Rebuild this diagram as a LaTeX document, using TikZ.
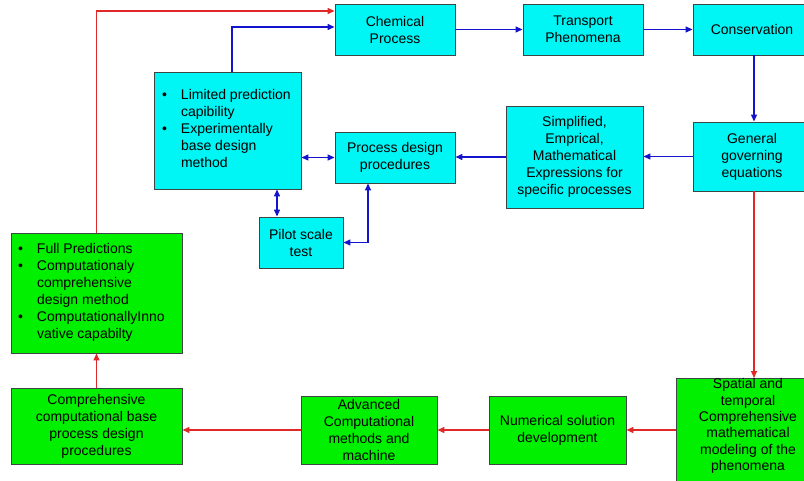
\documentclass[tikz,border=0pt]{standalone}
\usepackage{fontspec}
\setmainfont{Liberation Sans}
\usetikzlibrary{arrows.meta,calc}
\definecolor{cyanf}{RGB}{0,245,245}
\definecolor{greenf}{RGB}{0,240,0}
\definecolor{boxline}{RGB}{60,70,70}
\definecolor{arrblue}{RGB}{20,20,205}
\definecolor{arrred}{RGB}{225,40,40}
\newcommand{\fs}{\fontsize{14}{17}\selectfont}
\tikzset{
  cbox/.style={draw=boxline, fill=cyanf, line width=0.9pt, inner sep=0pt, align=center, font=\fs},
  gbox/.style={draw=boxline, fill=greenf, line width=0.9pt, inner sep=0pt, align=center, font=\fs},
  txt/.style={inner sep=0pt, align=center, font=\fs},
  barrow/.style={draw=arrblue, line width=1.3pt, -{Triangle[length=7pt,width=6pt]}},
  bdarrow/.style={draw=arrblue, line width=1.3pt, {Triangle[length=7pt,width=6pt]}-{Triangle[length=7pt,width=6pt]}},
  rarrow/.style={draw=arrred, line width=1.3pt, -{Triangle[length=7pt,width=6pt]}}
}
\begin{document}
\begin{tikzpicture}[x=1pt,y=-1pt]
\useasboundingbox (0,0) rectangle (804,481);
% top row
\node[cbox, minimum width=120pt, minimum height=51pt] (chem) at (395,29.5) {Chemical\\Process};
\node[cbox, minimum width=120pt, minimum height=51pt] (trans) at (583,29.5) {Transport\\Phenomena};
\node[cbox, minimum width=118pt, minimum height=51pt] (cons) at (752,29.5) {Conservation};
% middle row
\node[cbox, minimum width=118pt, minimum height=69pt] (gen) at (752,156.5) {General\\governing\\equations};
\node[cbox, minimum width=137pt, minimum height=102pt] (simp) at (574.5,157) {Simplified,\\Emprical,\\Mathematical\\Expressions for\\specific processes};
\node[cbox, minimum width=120pt, minimum height=51pt] (proc) at (395,157.5) {Process design\\procedures};
\node[cbox, minimum width=147pt, minimum height=117pt] (lim) at (227.5,130.5) {\makebox[131pt][l]{\begin{tabular}{@{}p{19pt}@{}l@{}}\textbullet & Limited prediction\\ & capibility\\ \textbullet & Experimentally\\ & base design\\ & method\end{tabular}}};
\node[cbox, minimum width=84pt, minimum height=51pt] (pilot) at (301,242.5) {Pilot scale\\test};
% green boxes
\node[gbox, minimum width=171pt, minimum height=120pt] (full) at (96.5,293) {\makebox[157pt][l]{\begin{tabular}{@{}p{19pt}@{}l@{}}\textbullet & Full Predictions\\ \textbullet & Computationaly\\ & comprehensive\\ & design method\\ \textbullet & ComputationallyInno\\ & vative capabilty\end{tabular}}};
\node[gbox, minimum width=171pt, minimum height=76pt] (comp) at (96.5,426) {Comprehensive\\computational base\\process design\\procedures};
\node[gbox, minimum width=136pt, minimum height=68pt] (adv) at (369,430) {Advanced\\Computational\\methods and\\machine};
\node[gbox, minimum width=137pt, minimum height=68pt] (num) at (557.5,430) {Numerical solution\\development};
\node[gbox, minimum width=146pt, minimum height=120pt, anchor=north west] (spatial) at (676,378) {};
\node[txt, font=\fontsize{14}{16.4}\selectfont] (spatialtext) at (748,426) {Spatial and\\temporal\\Comprehensive\\mathematical\\modeling of the\\phenomena};
% blue connectors
\draw[barrow] (chem.east) -- (trans.west);
\draw[barrow] (trans.east) -- (cons.west);
\draw[barrow] ([xshift=2pt]cons.south) -- ([xshift=2pt]gen.north);
\draw[barrow] (gen.west) -- (gen.west -| simp.east);
\draw[barrow] (simp.west) -- (simp.west -| proc.east);
\draw[bdarrow] (lim.east |- proc.west) -- (proc.west);
\draw[barrow] ([xshift=4.5pt]lim.north) |- ([yshift=2.5pt]chem.west);
\draw[bdarrow] ([xshift=-24pt]pilot.north |- lim.south) -- ([xshift=-24pt]pilot.north);
\draw[bdarrow] (pilot.east) -| ([xshift=-27pt]proc.south);
% red connectors
\draw[rarrow] ([xshift=2pt]gen.south) -- ([xshift=2pt]gen.south |- spatial.north);
\draw[rarrow] (spatial.west |- num.east) -- (num.east);
\draw[rarrow] (num.west) -- (adv.east);
\draw[rarrow] (adv.west) -- (adv.west -| comp.east);
\draw[rarrow] (comp.north) -- (full.south);
\draw[rarrow] (full.north) |- ([yshift=18.5pt]chem.west);
\end{tikzpicture}
\end{document}
